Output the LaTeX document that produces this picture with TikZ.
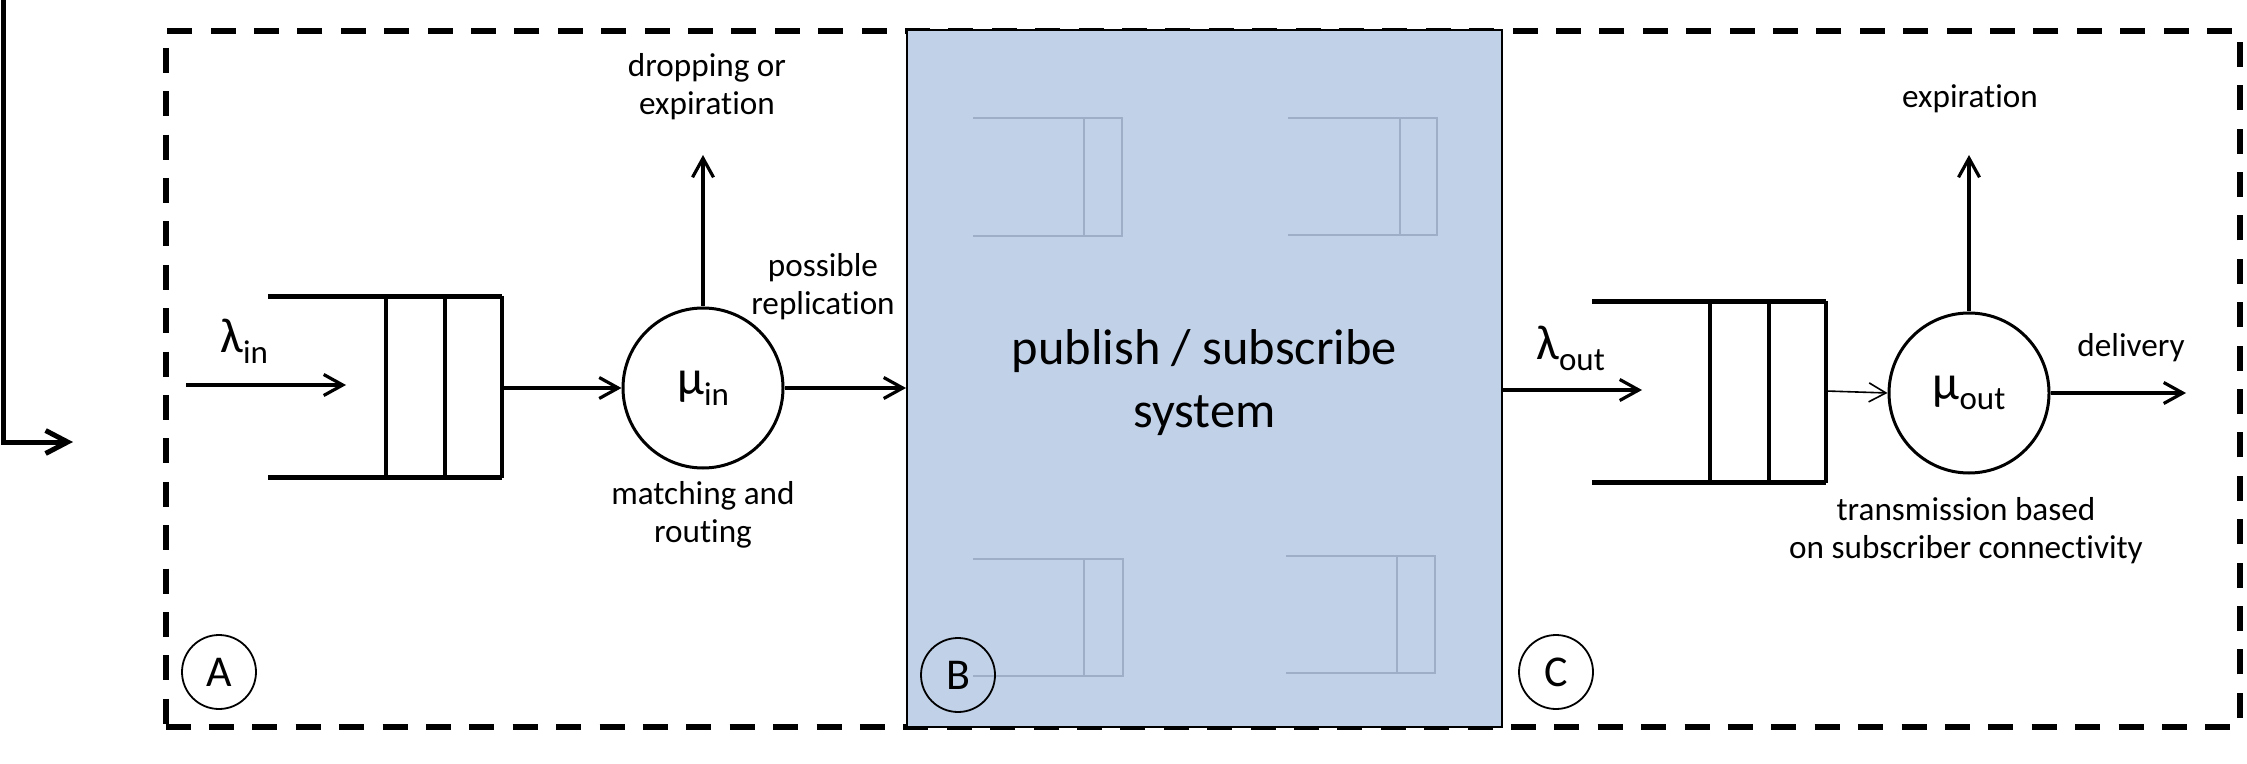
\documentclass[tikz,border=0pt]{standalone}
\usepackage{fontspec}
\setmainfont{Carlito}[Ligatures=CommonOff]
\usetikzlibrary{arrows.meta}
\definecolor{boxblue}{RGB}{193,209,232}
\definecolor{faintq}{RGB}{158,174,198}
\newcommand{\mysub}[1]{\raisebox{-0.22em}{\fontsize{16.5pt}{16.5pt}\selectfont #1}}
\begin{document}
\begin{tikzpicture}[x=0.5pt,y=-0.5pt,
  lbl/.style={font=\fontsize{16.6pt}{19pt}\selectfont, align=center, inner sep=0pt},
  greek/.style={font=\fontsize{24.5pt}{28pt}\selectfont, inner sep=0pt},
  arr/.style={line width=1.6pt, -{Straight Barb[length=9.5pt,width=10.5pt]}},
  thinarr/.style={line width=0.8pt, -{Straight Barb[length=8.5pt,width=9.5pt]}},
  bigarr/.style={line width=2.5pt, -{Straight Barb[length=11pt,width=11.5pt]}},
  qedge/.style={line width=2.5pt},
  qdiv/.style={line width=2pt},
  server/.style={circle, draw, line width=1.5pt, minimum size=80pt, inner sep=0pt, font=\fontsize{24.5pt}{28pt}\selectfont},
  tag/.style={circle, draw, line width=0.9pt, minimum size=37pt, inner sep=0pt, font=\fontsize{22pt}{22pt}\selectfont},
  fq/.style={draw=faintq, line width=1pt},
  frame/.style={draw, line width=3pt, dash pattern=on 12.5pt off 9.2pt, inner sep=0pt},
]
\useasboundingbox (0,0) rectangle (2247,764);

% incoming L-shaped arrow
\coordinate (ltop) at (3,0);
\coordinate (ltip) at (73,442);
\draw[bigarr] (ltop) |- (ltip);

% dashed frame
\node[frame, minimum width=1037pt, minimum height=348pt] (frame) at (1202.5,379) {};

% publish / subscribe box
\node[draw, fill=boxblue, line width=1pt, minimum width=297.5pt, minimum height=348.5pt] (pubsub) at (1204.5,378.5) {};
\node[font=\fontsize{25.2pt}{31.5pt}\selectfont, align=center, inner sep=0pt] (pstext) at (1204.5,383)
      {publish / subscribe\\system};

% faint queues inside the box
\draw[fq] (973,118) -- (1122,118) -- (1122,236) -- (973,236);
\draw[fq] (1084,118) -- (1084,236);
\draw[fq] (1288,118) -- (1437,118) -- (1437,235) -- (1288,235);
\draw[fq] (1400,118) -- (1400,235);
\draw[fq] (973,559) -- (1123,559) -- (1123,676) -- (973,676);
\draw[fq] (1084,559) -- (1084,676);
\draw[fq] (1286,556) -- (1435,556) -- (1435,673) -- (1286,673);
\draw[fq] (1397,556) -- (1397,673);

% input queue
\draw[qedge] (268,297) -- (502,297);
\draw[qedge] (268,477) -- (502,477);
\draw[qdiv] (386,297) -- (386,477);
\draw[qdiv] (445,297) -- (445,477);
\draw[qdiv] (502,296) -- (502,478);
\coordinate (qinR) at (502,388);

% output queue
\draw[qedge] (1592,302) -- (1826,302);
\draw[qedge] (1592,482) -- (1826,482);
\draw[qdiv] (1710,302) -- (1710,482);
\draw[qdiv] (1769,302) -- (1769,482);
\draw[qdiv] (1826,301) -- (1826,483);
\coordinate (qoutR) at (1826,391);

% servers
\node[server] (muin) at (703,388) {μ\mysub{in}};
\node[server] (muout) at (1969,393) {μ\mysub{out}};

% arrival labels
\node[greek, anchor=base west] (lamin) at (220,353) {λ\mysub{in}};
\node[greek, anchor=base west] (lamout) at (1536,360) {λ\mysub{out}};

% arrows
\coordinate (laminS) at (186,385);
\coordinate (laminT) at (346,385);
\draw[arr] (laminS) -- (laminT);
\draw[arr] (qinR) -- (muin.west);
\draw[arr] (muin.east) -- (muin.east -| pubsub.west);
\coordinate (dropT) at (703,155);
\draw[arr] (muin.north) -- (dropT);

\coordinate (lamoutT) at (1642,390);
\draw[arr] (lamoutT -| pubsub.east) -- (lamoutT);
\draw[thinarr] (qoutR) -- (muout.west);
\coordinate (expT) at (1969,155);
\draw[arr] (muout.north) -- (expT);
\coordinate (delT) at (2186,393);
\draw[arr] (muout.east) -- (delT);

% text labels
\node[lbl] (droplbl) at (707,87) {dropping or\\expiration};
\node[lbl] (repllbl) at (823,287) {possible\\replication};
\node[lbl] (matchlbl) at (703,515) {matching and\\routing};
\node[lbl] (explbl) at (1970,99) {expiration};
\node[lbl] (dellbl) at (2131,348) {delivery};
\node[lbl] (translbl) at (1966,531) {transmission based\\on subscriber connectivity};

% section tags
\node[tag] (tagA) at (219,672) {A};
\node[tag] (tagB) at (958,675) {B};
\node[tag] (tagC) at (1556,672) {C};
\end{tikzpicture}
\end{document}
